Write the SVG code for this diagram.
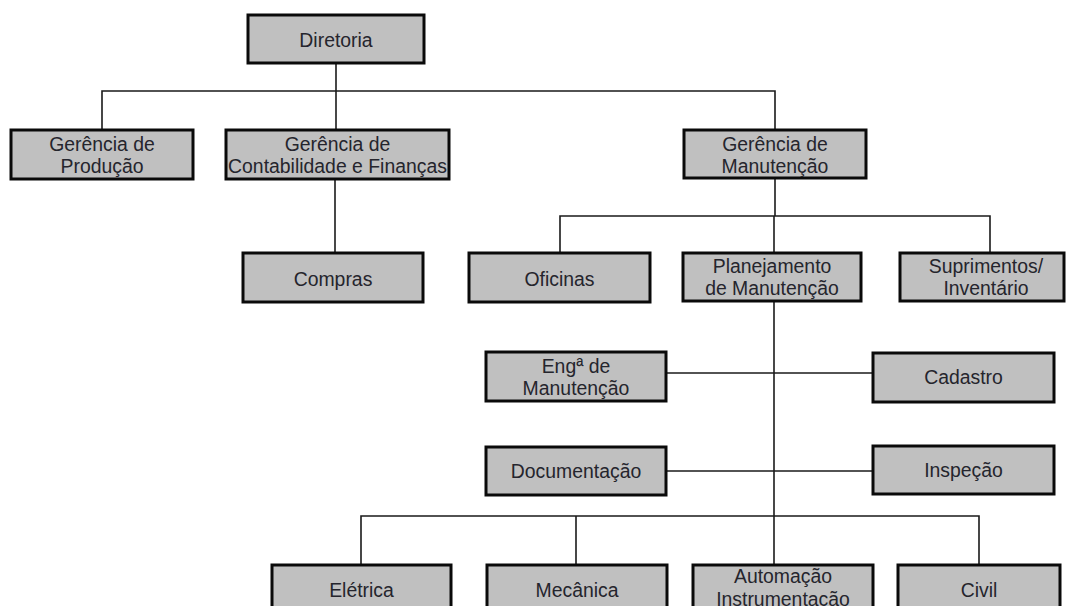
<svg xmlns="http://www.w3.org/2000/svg" width="1067" height="606" viewBox="0 0 1067 606">
  <style>
    .box { fill: #c0c0c0; stroke: #0a0a0a; stroke-width: 3; }
    .lbl { font-family: "Liberation Sans", Arial, sans-serif; font-size: 19.4px; fill: #25252d; text-anchor: middle; }
    .wire { fill: none; stroke: #1a1a1a; stroke-width: 1.6; }
  </style>
  <rect width="1067" height="606" fill="#ffffff"/>

  <!-- connectors -->
  <g id="connectors" class="wire">
    <path d="M336 63 V91"/>
    <path d="M102 130 V91 H775 V130"/>
    <path d="M336 91 V130"/>
    <path d="M335 179 V253"/>
    <path d="M775 178 V216"/>
    <path d="M560 253 V216 H990 V253"/>
    <path d="M774 216 V253"/>
    <path d="M774 301 V565"/>
    <path d="M666 373 H873"/>
    <path d="M666 471 H873"/>
    <path d="M361 565 V516 H979 V565"/>
    <path d="M576 516 V565"/>
  </g>

  <!-- level 0 -->
  <g id="diretoria">
    <rect class="box" x="248" y="15" width="176" height="48"/>
    <text class="lbl" transform="translate(336 46.5) scale(1 1.08)">Diretoria</text>
  </g>

  <!-- level 1 -->
  <g id="ger-producao">
    <rect class="box" x="11" y="130" width="182" height="49"/>
    <text class="lbl" transform="translate(102 150.5) scale(1 1.08)">Gerência de</text>
    <text class="lbl" transform="translate(102 172.5) scale(1 1.08)">Produção</text>
  </g>
  <g id="ger-contabilidade">
    <rect class="box" x="226" y="130" width="223" height="49"/>
    <text class="lbl" transform="translate(337.5 150.5) scale(1 1.08)">Gerência de</text>
    <text class="lbl" transform="translate(337.5 172.5) scale(1 1.08)">Contabilidade e Finanças</text>
  </g>
  <g id="ger-manutencao">
    <rect class="box" x="684" y="130" width="182" height="48"/>
    <text class="lbl" transform="translate(775 150.5) scale(1 1.08)">Gerência de</text>
    <text class="lbl" transform="translate(775 172.5) scale(1 1.08)">Manutenção</text>
  </g>

  <!-- level 2 -->
  <g id="compras">
    <rect class="box" x="243" y="253" width="180" height="49"/>
    <text class="lbl" transform="translate(333 286) scale(1 1.08)">Compras</text>
  </g>
  <g id="oficinas">
    <rect class="box" x="469" y="253" width="181" height="49"/>
    <text class="lbl" transform="translate(559.5 286) scale(1 1.08)">Oficinas</text>
  </g>
  <g id="planejamento">
    <rect class="box" x="683" y="253" width="178" height="48"/>
    <text class="lbl" transform="translate(772 273) scale(1 1.08)">Planejamento</text>
    <text class="lbl" transform="translate(772 295) scale(1 1.08)">de Manutenção</text>
  </g>
  <g id="suprimentos">
    <rect class="box" x="900" y="253" width="164" height="48"/>
    <text class="lbl" transform="translate(986 273) scale(1 1.08)">Suprimentos/</text>
    <text class="lbl" transform="translate(986 295) scale(1 1.08)">Inventário</text>
  </g>

  <!-- staff units of planning -->
  <g id="eng-manutencao">
    <rect class="box" x="486" y="352" width="180" height="49"/>
    <text class="lbl" transform="translate(576 373) scale(1 1.08)">Engª de</text>
    <text class="lbl" transform="translate(576 395) scale(1 1.08)">Manutenção</text>
  </g>
  <g id="cadastro">
    <rect class="box" x="873" y="353" width="181" height="49"/>
    <text class="lbl" transform="translate(963.5 384) scale(1 1.08)">Cadastro</text>
  </g>
  <g id="documentacao">
    <rect class="box" x="486" y="447" width="180" height="48"/>
    <text class="lbl" transform="translate(576 478) scale(1 1.08)">Documentação</text>
  </g>
  <g id="inspecao">
    <rect class="box" x="873" y="446" width="181" height="48"/>
    <text class="lbl" transform="translate(963.5 477) scale(1 1.08)">Inspeção</text>
  </g>

  <!-- bottom level -->
  <g id="eletrica">
    <rect class="box" x="272" y="565" width="179" height="49"/>
    <text class="lbl" transform="translate(361.5 597) scale(1 1.08)">Elétrica</text>
  </g>
  <g id="mecanica">
    <rect class="box" x="487" y="565" width="180" height="49"/>
    <text class="lbl" transform="translate(577 597) scale(1 1.08)">Mecânica</text>
  </g>
  <g id="automacao">
    <rect class="box" x="693" y="565" width="180" height="49"/>
    <text class="lbl" transform="translate(783 583) scale(1 1.08)">Automação</text>
    <text class="lbl" transform="translate(783 605.5) scale(1 1.08)">Instrumentação</text>
  </g>
  <g id="civil">
    <rect class="box" x="898" y="565" width="162" height="49"/>
    <text class="lbl" transform="translate(979 597) scale(1 1.08)">Civil</text>
  </g>
</svg>
